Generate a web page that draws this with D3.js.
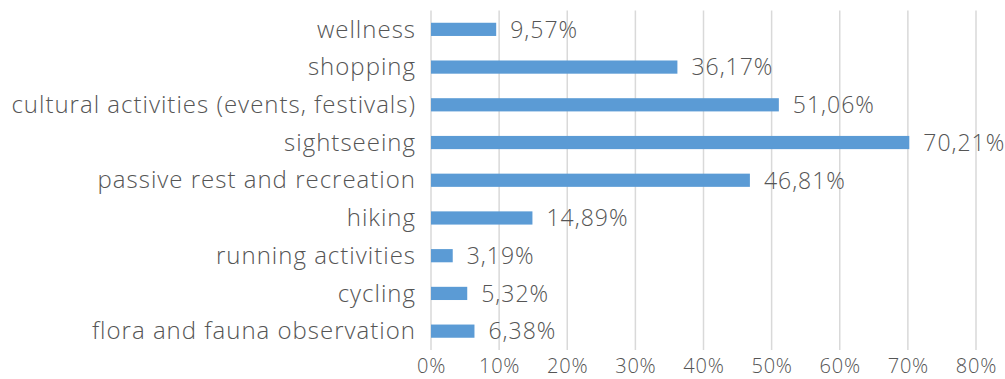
<!DOCTYPE html>
<html>
<head>
<meta charset="utf-8">
<script src="https://cdn.jsdelivr.net/npm/d3@7"></script>
<style>
  html, body { margin: 0; padding: 0; background: #fff; }
  svg text { font-family: "Open Sans", sans-serif; fill: #555; font-weight: 300; }
</style>
</head>
<body>
<svg id="chart" width="1005" height="379"></svg>
<script>
const categories = [
  "wellness",
  "shopping",
  "cultural activities (events, festivals)",
  "sightseeing",
  "passive rest and recreation",
  "hiking",
  "running activities",
  "cycling",
  "flora and fauna observation"
];
const values = [9.57, 36.17, 51.06, 70.21, 46.81, 14.89, 3.19, 5.32, 6.38];
const tickValues = [0, 10, 20, 30, 40, 50, 60, 70, 80];

const svg = d3.select("#chart");
const margin = { left: 431, right: 29, top: 10.5, bottom: 29 };
const width = 1005 - margin.left - margin.right;
const height = 379 - margin.top - margin.bottom;

const x = d3.scaleLinear().domain([0, 80]).range([0, width]);
const y = d3.scaleBand().domain(categories).range([0, height]).paddingInner(0.65).paddingOuter(0.325);

const g = svg.append("g").attr("transform", `translate(${margin.left},${margin.top})`);

// vertical gridlines
g.selectAll("line.grid")
  .data(tickValues)
  .join("line")
  .attr("class", "grid")
  .attr("x1", d => x(d)).attr("x2", d => x(d))
  .attr("y1", 0).attr("y2", height)
  .attr("stroke", "#d9d9d9")
  .attr("stroke-width", 1.5);

// bars
const fmt = v => v.toFixed(2).replace(".", ",") + "%";
const data = categories.map((c, i) => ({ c, v: values[i] }));

g.selectAll("rect.bar")
  .data(data)
  .join("rect")
  .attr("class", "bar")
  .attr("x", x(0))
  .attr("y", d => y(d.c))
  .attr("width", d => x(d.v) - x(0))
  .attr("height", y.bandwidth())
  .attr("fill", "#5b9bd5");

// value labels
g.selectAll("text.val")
  .data(data)
  .join("text")
  .attr("class", "val")
  .attr("x", d => x(d.v) + 14)
  .attr("y", d => y(d.c) + y.bandwidth() / 2)
  .attr("dy", "0.36em")
  .attr("font-size", 23)
  .attr("letter-spacing", 1)
  .text(d => fmt(d.v));

// category axis
const yAxis = g.append("g").call(d3.axisLeft(y).tickSize(0).tickPadding(15));
yAxis.select(".domain").remove();
yAxis.selectAll("text")
  .attr("font-size", 24)
  .attr("letter-spacing", 1)
  .attr("dy", "0.34em")
  .attr("font-family", "Open Sans, sans-serif")
  .attr("fill", "#555");

// percentage axis
const xAxis = g.append("g")
  .attr("transform", `translate(0,${height})`)
  .call(d3.axisBottom(x).tickValues(tickValues).tickSize(0).tickPadding(9).tickFormat(d => d + "%"));
xAxis.select(".domain").remove();
xAxis.selectAll("text")
  .attr("font-size", 20)
  .attr("letter-spacing", 0.8)
  .attr("font-family", "Open Sans, sans-serif")
  .attr("fill", "#555");
</script>
</body>
</html>
